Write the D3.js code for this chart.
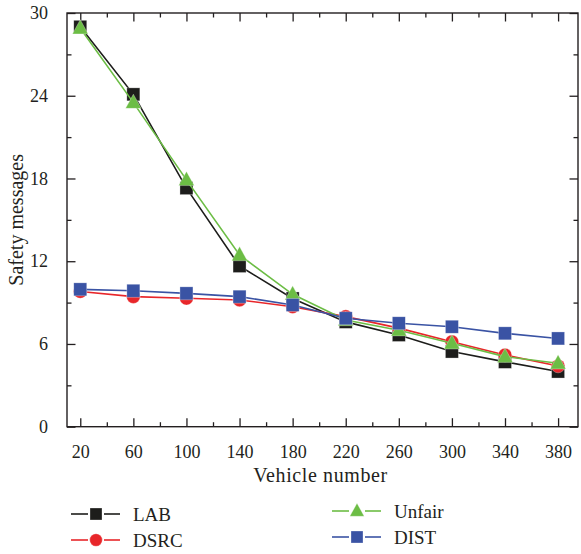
<!DOCTYPE html>
<html>
<head>
<meta charset="utf-8">
<script src="https://cdn.jsdelivr.net/npm/d3@7"></script>
<style>
  html, body { margin: 0; padding: 0; background: #fff; }
  svg { display: block; }
  text { font-family: "Liberation Serif", "DejaVu Serif", serif; fill: #231f20; }
</style>
</head>
<body>
<svg id="chart" width="581" height="554"></svg>
<script>
const vehicles = [20, 60, 100, 140, 180, 220, 260, 300, 340, 380];
const lab    = [29.0, 24.1, 17.3, 11.65, 9.3, 7.6, 6.65, 5.45, 4.7, 4.0];
const dsrc   = [9.8, 9.43, 9.31, 9.19, 8.7, 7.98, 7.15, 6.16, 5.2, 4.4];
const unfair = [28.9, 23.5, 17.9, 12.45, 9.6, 7.74, 7.0, 6.05, 5.08, 4.6];
const dist   = [9.96, 9.86, 9.67, 9.43, 8.83, 7.86, 7.5, 7.25, 6.77, 6.4];
const seriesNames = ["LAB", "DSRC", "Unfair", "DIST"];
const seriesColors = ["#1d1d1b", "#e8262a", "#6cbd45", "#3a53a4"];
const seriesShapes = ["square", "circle", "triangle", "square"];
const xMajor = [20, 60, 100, 140, 180, 220, 260, 300, 340, 380];
const xMinor = [40, 80, 120, 160, 200, 240, 280, 320, 360];
const yMajor = [0, 6, 12, 18, 24, 30];
const yMinor = [3, 9, 15, 21, 27];
const xTitle = "Vehicle number";
const yTitle = "Safety messages";

const series = [lab, dsrc, unfair, dist].map((vals, i) => ({
  name: seriesNames[i], color: seriesColors[i], shape: seriesShapes[i],
  points: vehicles.map((v, j) => ({ x: v, y: vals[j] }))
}));

const L = 67, R = 578, T = 13, B = 426.7;
const svg = d3.select("#chart");
const x = d3.scaleLinear().domain([10, 395]).range([L, R]);
const y = d3.scaleLinear().domain([0, 30]).range([B, T]);

const axisColor = "#231f20";
function styleAxis(g) {
  g.selectAll(".domain").remove();
  g.selectAll("line").attr("stroke", axisColor).attr("stroke-width", 1.3);
  g.selectAll("text").style("font-size", "18px").attr("fill", axisColor);
}

// minor ticks
svg.append("g").attr("transform", `translate(0,${B})`)
  .call(d3.axisBottom(x).tickValues(xMinor).tickSize(-4.5).tickFormat(""))
  .call(styleAxis);
svg.append("g").attr("transform", `translate(0,${T})`)
  .call(d3.axisTop(x).tickValues(xMinor).tickSize(-4.5).tickFormat(""))
  .call(styleAxis);
svg.append("g").attr("transform", `translate(${L},0)`)
  .call(d3.axisLeft(y).tickValues(yMinor).tickSize(-4.5).tickFormat(""))
  .call(styleAxis);
svg.append("g").attr("transform", `translate(${R},0)`)
  .call(d3.axisRight(y).tickValues(yMinor).tickSize(-4.5).tickFormat(""))
  .call(styleAxis);

// major ticks
svg.append("g").attr("transform", `translate(0,${B})`)
  .call(d3.axisBottom(x).tickValues(xMajor).tickSize(-8.5).tickPadding(18.5).tickFormat(d3.format("d")))
  .call(styleAxis);
svg.append("g").attr("transform", `translate(0,${T})`)
  .call(d3.axisTop(x).tickValues(xMajor).tickSize(-8.5).tickFormat(""))
  .call(styleAxis);
svg.append("g").attr("transform", `translate(${L},0)`)
  .call(d3.axisLeft(y).tickValues(yMajor).tickSize(-8.5).tickPadding(19).tickFormat(d3.format("d")))
  .call(styleAxis);
svg.append("g").attr("transform", `translate(${R},0)`)
  .call(d3.axisRight(y).tickValues(yMajor).tickSize(-8.5).tickFormat(""))
  .call(styleAxis);

// frame
svg.append("rect").attr("x", L).attr("y", T).attr("width", R - L).attr("height", B - T)
  .attr("fill", "none").attr("stroke", axisColor).attr("stroke-width", 1.4);

// titles
svg.append("text").attr("x", (L + R) / 2 - 2).attr("y", 482)
  .attr("text-anchor", "middle").style("font-size", "20px").style("letter-spacing", "0.6px").text(xTitle);
svg.append("text").attr("transform", `translate(23,${(T + B) / 2}) rotate(-90)`)
  .attr("text-anchor", "middle").style("font-size", "20px").text(yTitle);

// markers
function drawMarker(g, shape, cx, cy, color, s) {
  if (shape === "square") {
    g.append("rect").attr("x", cx - s / 2).attr("y", cy - s / 2).attr("width", s).attr("height", s)
      .attr("fill", color).attr("stroke", "#fff").attr("stroke-opacity", 0.5).attr("stroke-width", 0.6);
  } else if (shape === "circle") {
    g.append("circle").attr("cx", cx).attr("cy", cy).attr("r", s / 2 + 0.3)
      .attr("fill", color).attr("stroke", "#fff").attr("stroke-opacity", 0.5).attr("stroke-width", 0.6);
  } else {
    const h = s * 1.05, w = s * 1.2;
    g.append("path")
      .attr("d", `M${cx},${cy - h * 0.62} L${cx + w / 2},${cy + h * 0.42} L${cx - w / 2},${cy + h * 0.42} Z`)
      .attr("fill", color).attr("stroke", "#fff").attr("stroke-opacity", 0.5).attr("stroke-width", 0.6);
  }
}

const line = d3.line().x(d => x(d.x)).y(d => y(d.y));
series.forEach(s => {
  const g = svg.append("g");
  g.append("path").datum(s.points).attr("d", line)
    .attr("fill", "none").attr("stroke", s.color).attr("stroke-width", 1.6);
  s.points.forEach(p => drawMarker(g, s.shape, x(p.x), y(p.y), s.color, 13));
});

// legend
const legendPos = [
  { lx: 71, ly: 514 },
  { lx: 71, ly: 540 },
  { lx: 332, ly: 511 },
  { lx: 332, ly: 537 }
];
series.forEach((s, i) => {
  const p = legendPos[i];
  const g = svg.append("g");
  g.append("line").attr("x1", p.lx).attr("x2", p.lx + 17).attr("y1", p.ly).attr("y2", p.ly)
    .attr("stroke", s.color).attr("stroke-width", 1.6);
  g.append("line").attr("x1", p.lx + 33).attr("x2", p.lx + 49).attr("y1", p.ly).attr("y2", p.ly)
    .attr("stroke", s.color).attr("stroke-width", 1.6);
  drawMarker(g, s.shape, p.lx + 25, p.ly, s.color, 12);
  g.append("text").attr("x", p.lx + 62).attr("y", p.ly + 6.5)
    .style("font-size", "19px").text(s.name);
});
</script>
</body>
</html>
